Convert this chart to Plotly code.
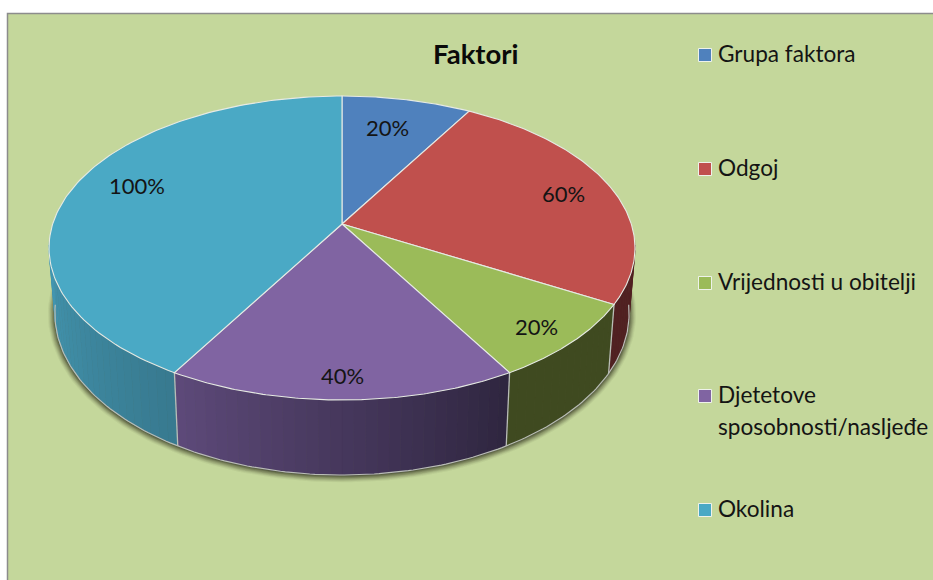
import numpy as np
import plotly.graph_objects as go

# --- data ---
categories = ["Grupa faktora", "Odgoj", "Vrijednosti u obitelji",
              "Djetetove<br>sposobnosti/nasljeđe", "Okolina"]
values = [20, 60, 20, 40, 100]
value_labels = ["20%", "60%", "20%", "40%", "100%"]
title_text = "Faktori"

# --- style ---
top_colors = ["#4F81BD", "#C0504D", "#9BBB59", "#8064A2", "#4AA9C5"]
wall_start = [(60, 90, 130), (80, 32, 33), (63, 74, 32), (47, 38, 64), (56, 122, 144)]   # at low angle
wall_end = [(60, 90, 130), (80, 32, 33), (63, 74, 32), (94, 74, 122), (68, 152, 178)]    # at high angle
label_radius = [0.75, 0.82, 0.87, 0.88, 0.785]
label_turn = [-1.5, 0, 0.8, 0, 5]
legend_y = [55, 169, 283, 396, 510]
LINE_STEP = 32
BG = "#C4D79B"
FONT = "Lato, 'Open Sans', sans-serif"
TEXT = "#141414"
RIM = "#E6EAE4"

# perspective of the pie disc in pixel space
CX, CY, A, B, K = 342.0, 224.0, 289.3, 148.2, 0.158


def top_xy(theta_deg, r=1.0):
    t = np.radians(theta_deg)
    den = 1 + K * r * np.cos(t)
    return CX + A * r * np.sin(t) / den, CY - B * r * np.cos(t) / den


def bottom_xy(theta_deg):
    x, y = top_xy(theta_deg)
    return CX + 0.98 * (x - CX), 1.0625 * y + 50


# slice angles follow the values
edges = np.concatenate([[0], np.cumsum(values)]) / np.sum(values) * 360.0
VIS0, VIS1 = 96.0, 264.0

fig = go.Figure()


def poly(xs, ys, fill, line=None, width=0.0):
    fig.add_trace(go.Scatter(
        x=list(xs), y=list(ys), mode="lines", fill="toself", fillcolor=fill,
        line=dict(color=line or "rgba(0,0,0,0)", width=width),
        hoverinfo="skip", showlegend=False))


# soft drop shadow below the bottom rim
th = np.linspace(0, 360, 241)
bx, by = bottom_xy(th)
ex, ey = (bx.min() + bx.max()) / 2, (by.min() + by.max()) / 2
for grow, alpha in [(7, 0.05), (6, 0.08), (5, 0.10), (4, 0.13), (3, 0.16), (2, 0.2), (1, 0.25)]:
    sx = ex + (bx - ex) * (1 + grow / 288)
    sy = ey + (by - ey) * (1 + grow / 165) + 0.5
    poly(sx, sy, f"rgba(35,38,22,{alpha})")

# side wall, in shaded strips
for i in range(len(values)):
    a0, a1 = max(edges[i], VIS0), min(edges[i + 1], VIS1)
    if a1 <= a0:
        continue
    n = max(1, int((a1 - a0) / 2))
    steps = np.linspace(a0, a1, n + 1)
    for j in range(n):
        f = (j + 0.5) / n
        c = tuple(int(wall_start[i][k] + f * (wall_end[i][k] - wall_start[i][k])) for k in range(3))
        col = f"rgb{c}"
        arc = np.linspace(steps[j], steps[j + 1], 4)
        tx, ty = top_xy(arc)
        qx, qy = bottom_xy(arc[::-1])
        poly(np.r_[tx, qx, tx[0]], np.r_[ty, qy, ty[0]], col, col, 0.6)

# wall seams and bottom rim
arc = np.linspace(VIS0, VIS1, 200)
qx, qy = bottom_xy(arc)
fig.add_trace(go.Scatter(x=qx, y=qy, mode="lines", line=dict(color="#B9BDB6", width=1.2),
                         hoverinfo="skip", showlegend=False))
for e in edges:
    if VIS0 < e < VIS1:
        tx, ty = top_xy(e)
        qx, qy = bottom_xy(e)
        fig.add_trace(go.Scatter(x=[tx, qx], y=[ty, qy], mode="lines",
                                 line=dict(color="#B9BDB6", width=1.3),
                                 hoverinfo="skip", showlegend=False))

# top face
for i in range(len(values)):
    arc = np.linspace(edges[i], edges[i + 1], 120)
    tx, ty = top_xy(arc)
    poly(np.r_[CX, tx, CX], np.r_[CY, ty, CY], top_colors[i], RIM, 1.1)

# legend squares
fig.add_trace(go.Scatter(
    x=[705] * len(categories), y=legend_y, mode="markers",
    marker=dict(symbol="square", size=13, color=top_colors, line=dict(color="#EEF2EA", width=1)),
    hoverinfo="skip", showlegend=False))

ann = []
for i, label in enumerate(value_labels):
    mid = (edges[i] + edges[i + 1]) / 2 + label_turn[i]
    lx, ly = top_xy(mid, label_radius[i])
    ann.append(dict(x=float(lx), y=float(ly), text=label, showarrow=False,
                    font=dict(family=FONT, size=22, color=TEXT), xanchor="center", yanchor="middle"))
for cat, y in zip(categories, legend_y):
    for n_line, part in enumerate(cat.split("<br>")):
        ann.append(dict(x=715.5, y=y - 1.5 + n_line * LINE_STEP, text=part, showarrow=False, align="left",
                        font=dict(family=FONT, size=22.6, color=TEXT), xanchor="left", yanchor="middle"))
ann.append(dict(x=476, y=53.5, text=f"<b>{title_text}</b>", showarrow=False,
                font=dict(family=FONT, size=27.5, color="#0A0A0A"), xanchor="center", yanchor="middle"))

fig.update_layout(
    width=933, height=580, autosize=False,
    margin=dict(l=0, r=0, t=0, b=0),
    paper_bgcolor="white", plot_bgcolor="white",
    xaxis=dict(range=[0, 933], visible=False, fixedrange=True),
    yaxis=dict(range=[580, 0], visible=False, fixedrange=True),
    showlegend=False,
    annotations=ann,
    shapes=[dict(type="rect", x0=7.5, y0=13.5, x1=940, y1=590, layer="below",
                 fillcolor=BG, line=dict(color="#8C8C8C", width=1.5))],
)
fig.write_html("out.html", config={"displayModeBar": False},
               post_script="document.body.style.margin='0';")
